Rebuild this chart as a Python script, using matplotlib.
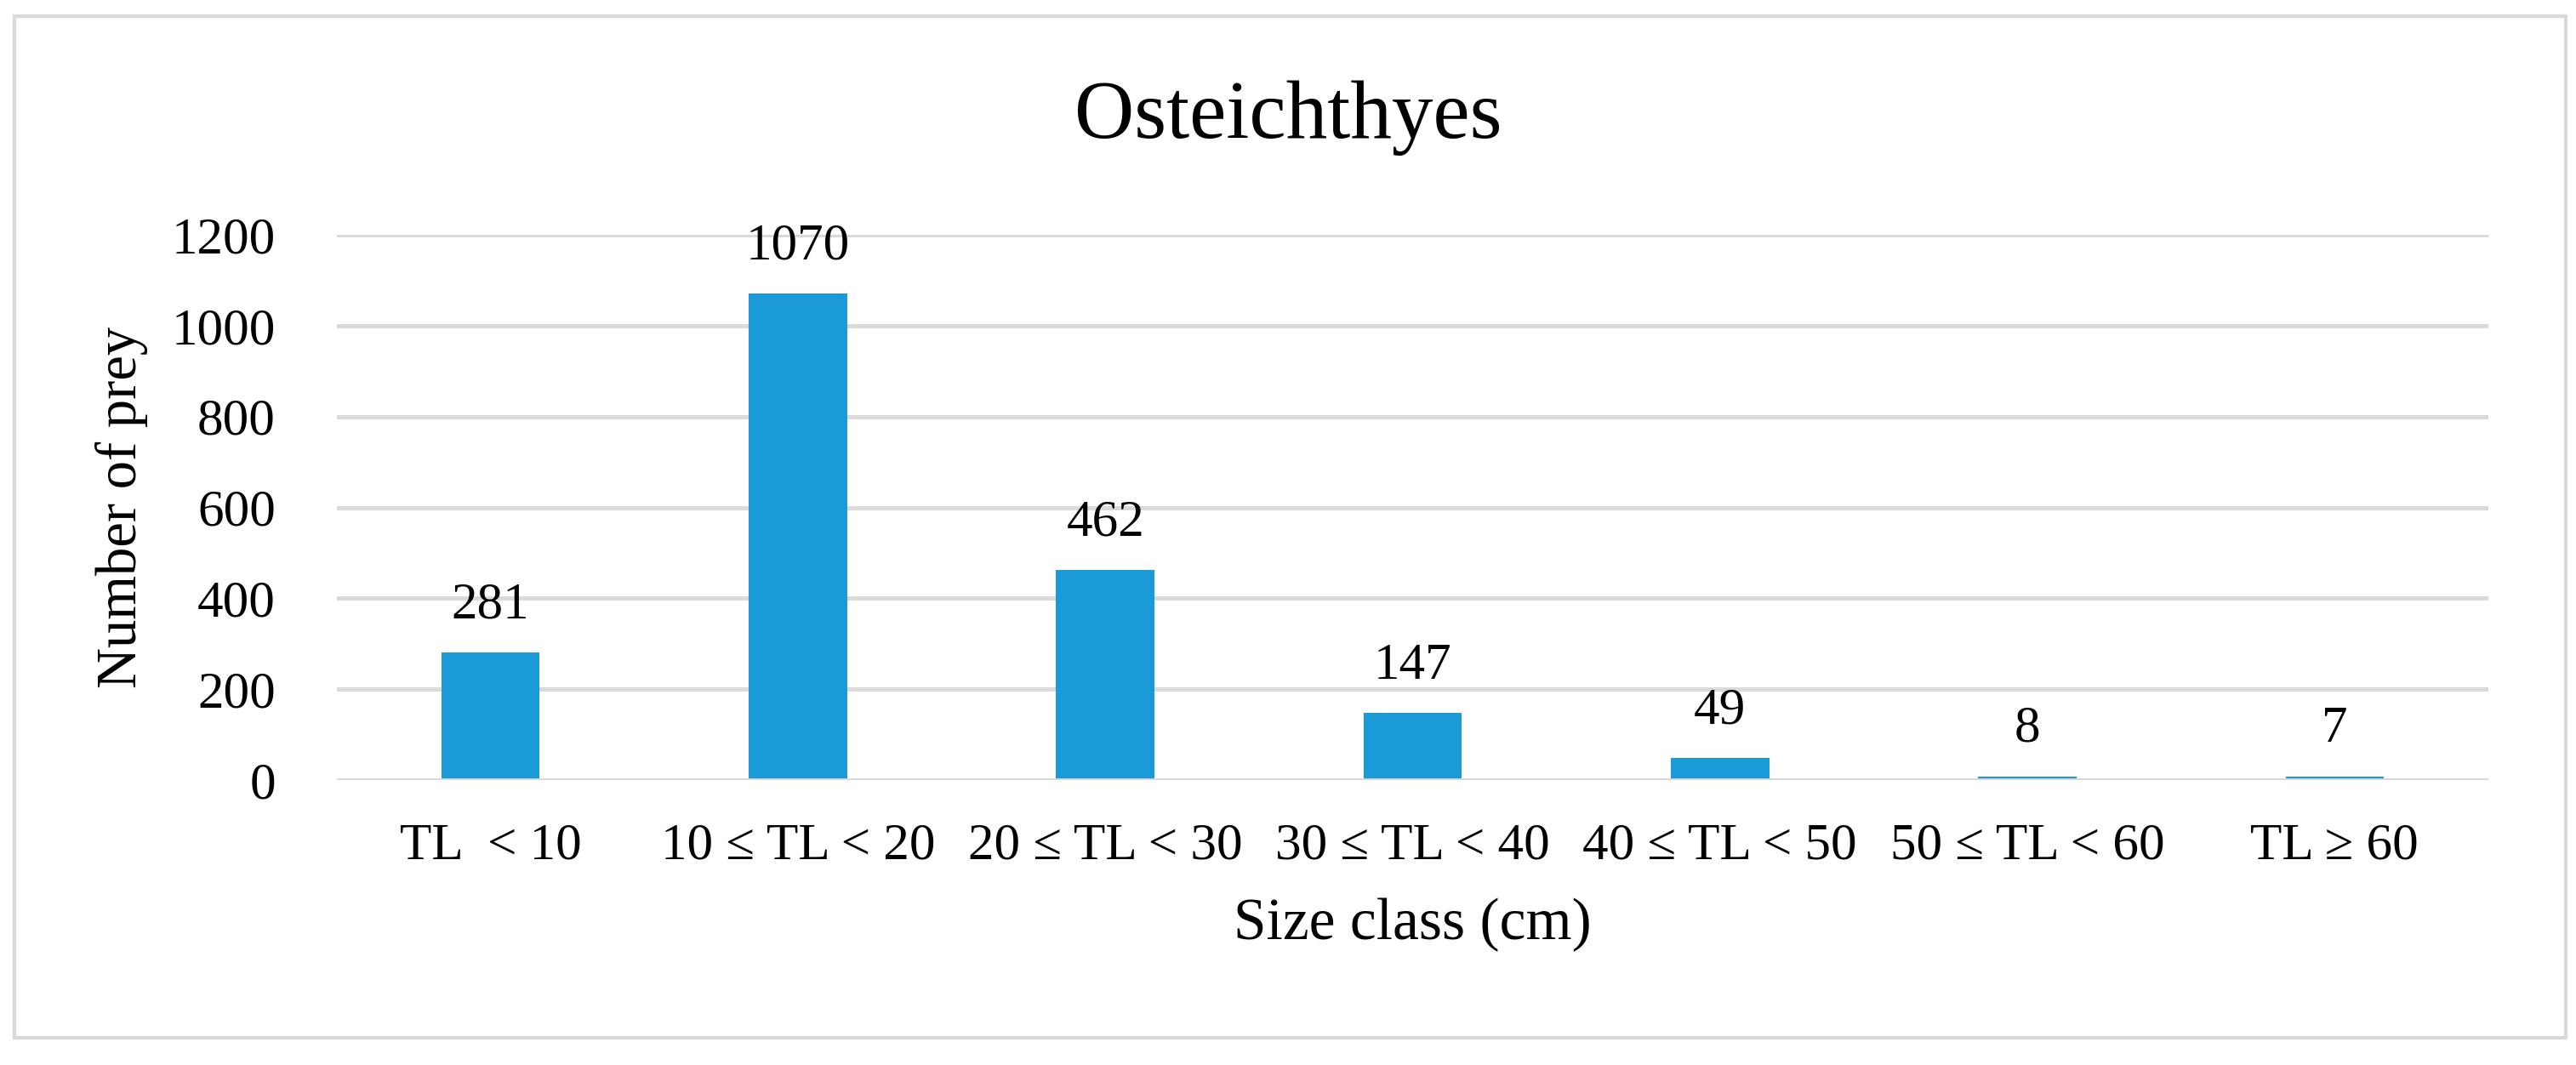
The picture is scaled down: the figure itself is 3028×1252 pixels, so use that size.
import matplotlib.pyplot as plt
from matplotlib.patches import Rectangle

# data
size_classes = ["TL  < 10", "10 ≤ TL < 20", "20 ≤ TL < 30", "30 ≤ TL < 40",
                "40 ≤ TL < 50", "50 ≤ TL < 60", "TL ≥ 60"]
n_prey = [281, 1070, 462, 147, 49, 8, 7]
y_ticks = [0, 200, 400, 600, 800, 1000, 1200]

bar_color = '#1A9AD7'
grid_color = '#D9D9D9'

plt.rcParams['font.family'] = ['Liberation Serif', 'DejaVu Serif']

fig = plt.figure(figsize=(30.28, 12.52), dpi=100)
ax = fig.add_axes([396 / 3028, 1 - 917 / 1252, (2925 - 396) / 3028, (917 - 276) / 1252])

x = list(range(len(size_classes)))
bars = ax.bar(x, n_prey, width=0.32, color=bar_color, zorder=3)

for xi, v in zip(x, n_prey):
    ax.annotate(str(v), (xi, v), xytext=(0, 20), textcoords='offset points',
                ha='center', va='bottom', fontsize=44)

ax.set_xlim(-0.5, len(size_classes) - 0.5)
ax.set_ylim(0, 1200)
ax.set_yticks(y_ticks)
ax.set_xticks(x)
ax.set_xticklabels(size_classes)
ax.tick_params(axis='both', length=0, labelsize=44)
ax.tick_params(axis='x', pad=36)
ax.tick_params(axis='y', pad=52)
ax.grid(axis='y', color=grid_color, linewidth=3.5, zorder=0)
# category axis line sits on top of the bars
ax.axhline(0, color=grid_color, linewidth=3.5, zorder=4)
for s in ax.spines.values():
    s.set_visible(False)

ax.set_xlabel('Size class (cm)', fontsize=50, labelpad=24)
ax.set_ylabel('Number of prey', fontsize=48, labelpad=20)
fig.suptitle('Osteichthyes', fontsize=70, y=1 - 139 / 1252, va='center')

# outer chart border
fig.patches.append(Rectangle((17 / 3028, 1 - 1220 / 1252), (3016 - 17) / 3028, (1220 - 19) / 1252,
                             transform=fig.transFigure, fill=False,
                             edgecolor=grid_color, linewidth=3))

fig.savefig('out.png', dpi=100, facecolor='white')
plt.close()
